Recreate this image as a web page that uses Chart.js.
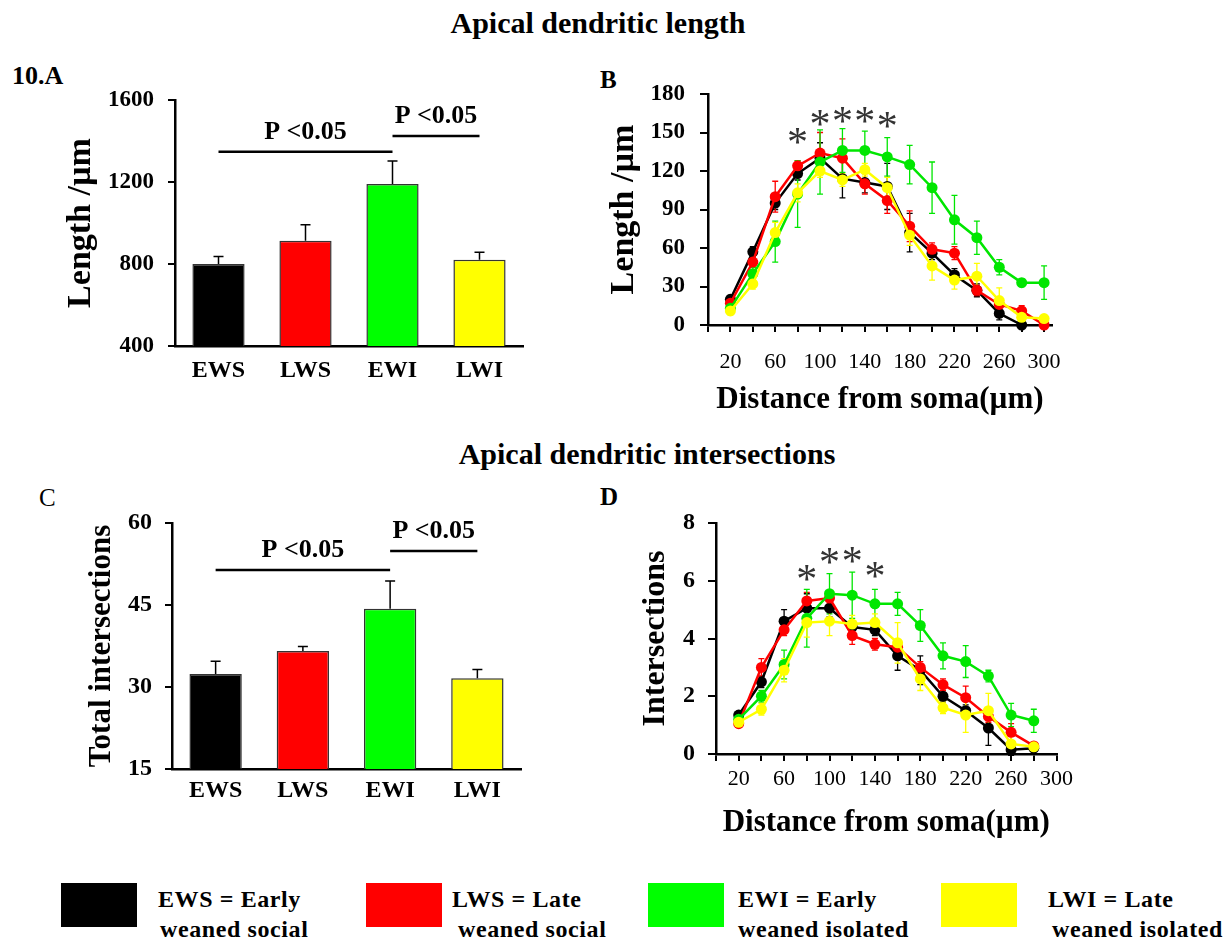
<!DOCTYPE html>
<html><head><meta charset="utf-8">
<script src="https://cdn.jsdelivr.net/npm/chart.js@4.4.1/dist/chart.umd.min.js"></script>
<style>
body{margin:0;background:#fff;font-family:"Liberation Serif","Times New Roman",serif;}
#page{position:relative;width:1231px;height:940px;overflow:hidden;background:#fff}
.t{position:absolute;font-weight:bold;line-height:1;white-space:nowrap;color:#000}
canvas{position:absolute}
.box{position:absolute;width:76px;height:44px;top:883px}
.lg{position:absolute;font-weight:bold;font-size:24px;letter-spacing:0.6px;line-height:1;white-space:nowrap}
</style></head><body><div id="page">
<div class="t" style="left:598px;transform:translateX(-50%);top:8px;font-size:30px">Apical dendritic length</div>
<div class="t" style="left:647px;transform:translateX(-50%);top:439px;font-size:30px">Apical dendritic intersections</div>
<div class="t" style="left:12px;top:63px;font-size:26px">10.A</div>
<div class="t" style="left:600px;top:67px;font-size:25px">B</div>
<div class="t" style="left:39px;top:485px;font-size:25px;font-weight:normal">C</div>
<div class="t" style="left:600px;top:484px;font-size:25px">D</div>

<canvas id="cA" width="560" height="360" style="left:0;top:60px"></canvas>
<canvas id="cB" width="490" height="360" style="left:590px;top:60px"></canvas>
<canvas id="cC" width="560" height="350" style="left:0;top:490px"></canvas>
<canvas id="cD" width="490" height="350" style="left:590px;top:490px"></canvas>

<div class="box" style="left:61px;background:#000"></div>
<div class="lg" style="left:158px;top:887px">EWS = Early</div>
<div class="lg" style="left:160px;top:917px">weaned social</div>
<div class="box" style="left:366px;background:#ff0000"></div>
<div class="lg" style="left:452px;top:887px">LWS = Late</div>
<div class="lg" style="left:458px;top:917px">weaned social</div>
<div class="box" style="left:648px;background:#00ff00"></div>
<div class="lg" style="left:738px;top:887px">EWI = Early</div>
<div class="lg" style="left:738px;top:917px">weaned isolated</div>
<div class="box" style="left:941px;background:#ffff00"></div>
<div class="lg" style="left:1048px;top:887px">LWI = Late</div>
<div class="lg" style="left:1052px;top:917px">weaned isolated</div>
</div>
<script>
// ---- data ----
const groups=['EWS','LWS','EWI','LWI'];
const lengthMean=[800,913,1190,821];
const lengthErr=[36,78,113,36];
const interMean=[32.4,36.6,44.3,31.6];
const interErr=[2.3,0.8,5.1,1.6];
const sigFrom=[0,2], sigTo=[2,3];
const sigA=[1348,1424], sigC=[51.4,54.9];
const sigText='P <0.05';

const distB=[20,40,60,80,100,120,140,160,180,200,220,240,260,280,300];
const ewsB=[20,57,95,118,130,114,111,108,72,56,39,27,9,0];
const lwsB=[17,49,100,124,134,130,110,97,77,59,56,27,16,11,0];
const ewiB=[13,40,65,102,127,136,136,131,125,107,82,68,45,33,33];
const lwiB=[11,32,72,103,120,113,121,107,70,46,35,38,19,6,5];
const ewsErrB=[3,4,5,5,12,15,8,18,15,5,5,5,5,2];
const lwsErrB=[3,4,12,4,16,15,8,10,12,5,5,4,5,4,2];
const ewiErrB=[3,5,16,26,25,17,15,15,15,20,19,13,6,3,13];
const lwiErrB=[3,4,8,7,5,5,5,8,8,11,7,10,10,3,2];
const starXB=[80,100,120,140,160], starYB=[147,161,164,164,160];

const distD=[20,40,60,80,100,120,140,160,180,200,220,240,260,280];
const ewsD=[1.35,2.5,4.6,5.05,5.05,4.4,4.3,3.4,2.9,2.0,1.5,0.9,0.15,0.2];
const lwsD=[1.05,3.0,4.3,5.3,5.4,4.1,3.8,3.7,3.0,2.4,1.95,1.3,0.75,0.28];
const ewiD=[1.2,2.0,3.1,4.7,5.55,5.5,5.2,5.2,4.45,3.4,3.2,2.7,1.35,1.15];
const lwiD=[1.1,1.55,2.9,4.55,4.6,4.5,4.55,3.85,2.6,1.6,1.35,1.5,0.35,0.25];
const ewsErrD=[0.1,0.2,0.4,0.5,0.3,0.2,0.2,0.5,0.5,0.2,0.2,0.6,0.2,0.1];
const lwsErrD=[0.1,0.3,0.2,0.3,0.2,0.3,0.2,0.2,0.2,0.2,0.4,0.2,0.3,0.1];
const ewiErrD=[0.1,0.2,0.5,1.0,0.7,0.8,0.5,0.4,0.55,0.45,0.55,0.2,0.4,0.4];
const lwiErrD=[0.1,0.2,0.4,0.5,0.5,0.3,0.3,0.7,0.4,0.2,0.6,0.6,0.3,0.1];
const starXD=[80,100,120,140], starYD=[6.27,6.85,6.9,6.38];
const xTickLabels=[20,60,100,140,180,220,260,300];

const barColors=['#000000','#ff0000','#00ff00','#ffff00'];
const lineColors=['#000000','#ff0000','#00e600','#ffff00'];

// ---- setup ----
const serif='"Liberation Serif","Times New Roman",serif';
Chart.defaults.font.family=serif;
Chart.defaults.color='#000';
Chart.defaults.animation=false;
const fixW=w=>s=>{s.width=w;}, fixH=h=>s=>{s.height=h;};

function yAxis(o){return {
  min:o.min,max:o.max,afterFit:fixW(o.w),
  border:{color:'#000',width:2.5},
  grid:{drawOnChartArea:false,color:'#000',lineWidth:2,tickLength:o.tl||7},
  ticks:{stepSize:o.step,padding:o.pad,font:{size:o.ts,weight:'bold',lineHeight:1},color:'#000',callback:v=>String(v)},
  title:{display:true,text:o.title,font:{size:o.fs,weight:'bold',lineHeight:1},padding:{top:o.tp,bottom:0},color:'#000'}
};}

function barExtras(mean,err,sigY){
  return {id:'barExtras',afterDatasetsDraw(chart){
    const ctx=chart.ctx,y=chart.scales.y,bars=chart.getDatasetMeta(0).data;
    ctx.save();ctx.strokeStyle='#000';ctx.lineWidth=1.5;
    bars.forEach((b,i)=>{
      const t=y.getPixelForValue(mean[i]),e=y.getPixelForValue(mean[i]+err[i]);
      ctx.beginPath();ctx.moveTo(b.x,t);ctx.lineTo(b.x,e);ctx.moveTo(b.x-5,e);ctx.lineTo(b.x+5,e);ctx.stroke();
    });
    ctx.lineWidth=2.5;ctx.fillStyle='#000';
    ctx.font='bold 26px '+serif;ctx.textAlign='center';ctx.textBaseline='alphabetic';
    sigFrom.forEach((f,k)=>{
      const x1=bars[f].x,x2=bars[sigTo[k]].x,yy=y.getPixelForValue(sigY[k]);
      ctx.beginPath();ctx.moveTo(x1,yy);ctx.lineTo(x2,yy);ctx.stroke();
      ctx.fillText(sigText,(x1+x2)/2,yy-13);
    });
    ctx.restore();
  }};
}

function lineExtras(errs,sx,sy){
  return {id:'lineExtras',
    beforeDatasetsDraw(chart){
      const ctx=chart.ctx,y=chart.scales.y;
      ctx.save();ctx.lineWidth=1.3;
      chart.data.datasets.forEach((ds,i)=>{
        ctx.strokeStyle=lineColors[i];
        chart.getDatasetMeta(i).data.forEach((p,j)=>{
          const v=ds.data[j].y,e=errs[i][j];
          const a=y.getPixelForValue(v+e),b=y.getPixelForValue(v-e);
          ctx.beginPath();ctx.moveTo(p.x,a);ctx.lineTo(p.x,b);
          ctx.moveTo(p.x-3,a);ctx.lineTo(p.x+3,a);ctx.moveTo(p.x-3,b);ctx.lineTo(p.x+3,b);ctx.stroke();
        });
      });
      ctx.restore();
    },
    afterDatasetsDraw(chart){
      const ctx=chart.ctx,x=chart.scales.x,y=chart.scales.y;
      ctx.save();ctx.font='42px '+serif;ctx.fillStyle='#333';ctx.textAlign='center';ctx.textBaseline='alphabetic';
      const m=ctx.measureText('*');
      const off=(m.actualBoundingBoxAscent-m.actualBoundingBoxDescent)/2;
      sx.forEach((v,k)=>ctx.fillText('*',x.getPixelForValue(v),y.getPixelForValue(sy[k])+off));
      ctx.restore();
    }};
}

function lineSet(label,xs,ys,color,order){
  return {label,data:ys.map((v,i)=>({x:xs[i],y:v})),borderColor:color,backgroundColor:color,
    borderWidth:2.5,pointRadius:5.5,pointBorderWidth:0,pointBackgroundColor:color,clip:false,order,tension:0};
}

const common={responsive:false,animation:false,events:[],
  plugins:{legend:{display:false},tooltip:{enabled:false}}};

function barChart(id,mean,err,sigY,pad,xh,yo){
  new Chart(document.getElementById(id),{type:'bar',
    data:{labels:groups,datasets:[{data:mean,backgroundColor:barColors,borderColor:'#333',borderWidth:1.5,
      borderSkipped:false,barPercentage:0.6,categoryPercentage:1}]},
    options:{...common,layout:{padding:pad},
      scales:{
        x:{afterFit:fixH(xh),border:{color:'#000',width:2.5},grid:{display:false,drawTicks:false},
          ticks:{padding:yo.xpad,font:{size:24,weight:'bold',lineHeight:1},color:'#000'}},
        y:yAxis(yo)}},
    plugins:[barExtras(mean,err,sigY)]});
}

function lineChart(id,sets,errs,sx,sy,pad,xo,yo){
  new Chart(document.getElementById(id),{type:'line',
    data:{datasets:sets},
    options:{...common,layout:{padding:pad},
      scales:{
        x:{type:'linear',min:0,max:xo.max,afterFit:fixH(xo.h),
          border:{color:'#000',width:2.5},
          grid:{drawOnChartArea:false,color:'#000',lineWidth:2,tickLength:7},
          ticks:{stepSize:20,includeBounds:false,autoSkip:false,maxRotation:0,padding:xo.pad,
            font:{size:22,lineHeight:1},color:'#000',callback:v=>xTickLabels.includes(v)?String(v):''},
          title:{display:true,text:'Distance from soma(µm)',font:{size:31,weight:'bold',lineHeight:1},
            padding:{top:0,bottom:xo.tp},color:'#000'}},
        y:yAxis(yo)}},
    plugins:[lineExtras(errs,sx,sy)]});
}

barChart('cA',lengthMean,lengthErr,sigA,{top:40,right:37,left:0,bottom:0},74,
  {min:400,max:1600,step:400,w:175,pad:14,ts:23,title:'Length /µm',fs:34,tp:64,xpad:13});
barChart('cC',interMean,interErr,sigC,{top:33,right:39,left:0,bottom:0},71,
  {min:15,max:60,step:15,w:172,pad:13,ts:24,title:'Total intersections',fs:31,tp:86,xpad:10});

lineChart('cB',[
  lineSet('EWS',distB,ewsB,lineColors[0],4),
  lineSet('LWS',distB,lwsB,lineColors[1],3),
  lineSet('EWI',distB,ewiB,lineColors[2],2),
  lineSet('LWI',distB,lwiB,lineColors[3],1)],
  [ewsErrB,lwsErrB,ewiErrB,lwiErrB],starXB,starYB,
  {top:34,right:18,left:0,bottom:0},{max:307,h:95,pad:19,tp:5},
  {min:0,max:180,step:30,w:118,pad:15,tl:8,ts:23,title:'Length /µm',fs:34,tp:17});

lineChart('cD',[
  lineSet('EWS',distD,ewsD,lineColors[0],4),
  lineSet('LWS',distD,lwsD,lineColors[1],3),
  lineSet('EWI',distD,ewiD,lineColors[2],2),
  lineSet('LWI',distD,lwiD,lineColors[3],1)],
  [ewsErrD,lwsErrD,ewiErrD,lwiErrD],starXD,starYD,
  {top:33,right:17,left:0,bottom:0},{max:300,h:86,pad:7,tp:2},
  {min:0,max:8,step:2,w:126,pad:13,tl:8,ts:24,title:'Intersections',fs:32,tp:50});
</script>
</body></html>
